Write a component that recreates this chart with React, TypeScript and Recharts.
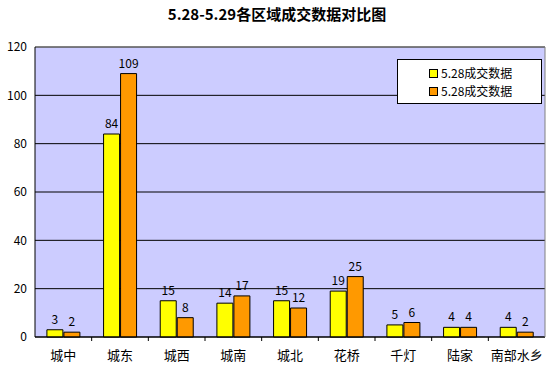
import React from "react";
import {
  BarChart,
  Bar,
  XAxis,
  YAxis,
  CartesianGrid,
  LabelList,
  ReferenceLine,
} from "recharts";

const categories = ["城中", "城东", "城西", "城南", "城北", "花桥", "千灯", "陆家", "南部水乡"];
const day1 = [3, 84, 15, 14, 15, 19, 5, 4, 4];
const day2 = [2, 109, 8, 17, 12, 25, 6, 4, 2];
const seriesNames = ["5.28成交数据", "5.28成交数据"];
const seriesColors = ["#FFFF00", "#FF9900"];
const yTicks = [0, 20, 40, 60, 80, 100, 120];

const data = categories.map((name, i) => ({ name, a: day1[i], b: day2[i] }));

const W = 554;
const H = 368;
const LEFT = 35;
const RIGHT = 9;
const font = "'Noto Sans CJK SC', sans-serif";

// category label plus the little tick mark sitting between bands
const XTick = (props: any) => {
  const { x, y, index } = props;
  const band = (W - LEFT - RIGHT) / categories.length;
  return (
    <g>
      {index < categories.length - 1 && (
        <line x1={x + band / 2} x2={x + band / 2} y1={y - 8} y2={y - 4} stroke="#000" />
      )}
      <text x={x} y={y + 15} textAnchor="middle" fontSize={13} fontFamily={font} fill="#000">
        {props.payload.value}
      </text>
    </g>
  );
};

const LegendBox = () => (
  <div
    style={{
      position: "absolute",
      left: 397,
      top: 59,
      width: 145,
      height: 45,
      background: "#fff",
      border: "1px solid #000",
      boxSizing: "border-box",
      padding: "4px 0 0 31px",
      fontFamily: font,
      fontSize: 12,
      lineHeight: "18px",
    }}
  >
    {seriesNames.map((n, i) => (
      <div key={i} style={{ display: "flex", alignItems: "center" }}>
        <span
          style={{
            display: "inline-block",
            width: 7,
            height: 7,
            border: "1px solid #000",
            background: seriesColors[i],
            marginRight: 3,
          }}
        />
        {n}
      </div>
    ))}
  </div>
);

export default function App() {
  return (
    <div style={{ position: "absolute", left: 0, top: 0, width: W, height: H, background: "#fff" }}>
      <div
        style={{
          position: "absolute",
          top: 3,
          width: W,
          textAlign: "center",
          fontFamily: font,
          fontWeight: "bold",
          fontSize: 15,
        }}
      >
        5.28-5.29各区域成交数据对比图
      </div>
      <BarChart
        width={W}
        height={H}
        data={data}
        margin={{ top: 47, right: 0, left: 0, bottom: 0 }}
        barCategoryGap="21%"
        barGap={1}
      >
        <CartesianGrid fill="#CCCCFF" stroke="#000" vertical={false} />
        <XAxis
          dataKey="name"
          height={31}
          axisLine={{ stroke: "#000" }}
          tickLine={false}
          tick={<XTick />}
          interval={0}
        />
        <YAxis
          width={LEFT}
          domain={[0, 120]}
          ticks={yTicks}
          axisLine={{ stroke: "#000" }}
          tickLine={false}
          tick={{ fontSize: 12, fill: "#000", fontFamily: font }}
        />
        <YAxis
          yAxisId="r"
          orientation="right"
          width={RIGHT}
          domain={[0, 120]}
          tick={false}
          tickLine={false}
          axisLine={{ stroke: "#808080" }}
        />
        <ReferenceLine y={120} stroke="#808080" />
        <Bar dataKey="a" fill={seriesColors[0]} stroke="#000" isAnimationActive={false}>
          <LabelList dataKey="a" position="top" offset={6} fontSize={12} fill="#000" fontFamily={font} />
        </Bar>
        <Bar dataKey="b" fill={seriesColors[1]} stroke="#000" isAnimationActive={false}>
          <LabelList dataKey="b" position="top" offset={6} fontSize={12} fill="#000" fontFamily={font} />
        </Bar>
      </BarChart>
      <LegendBox />
    </div>
  );
}
